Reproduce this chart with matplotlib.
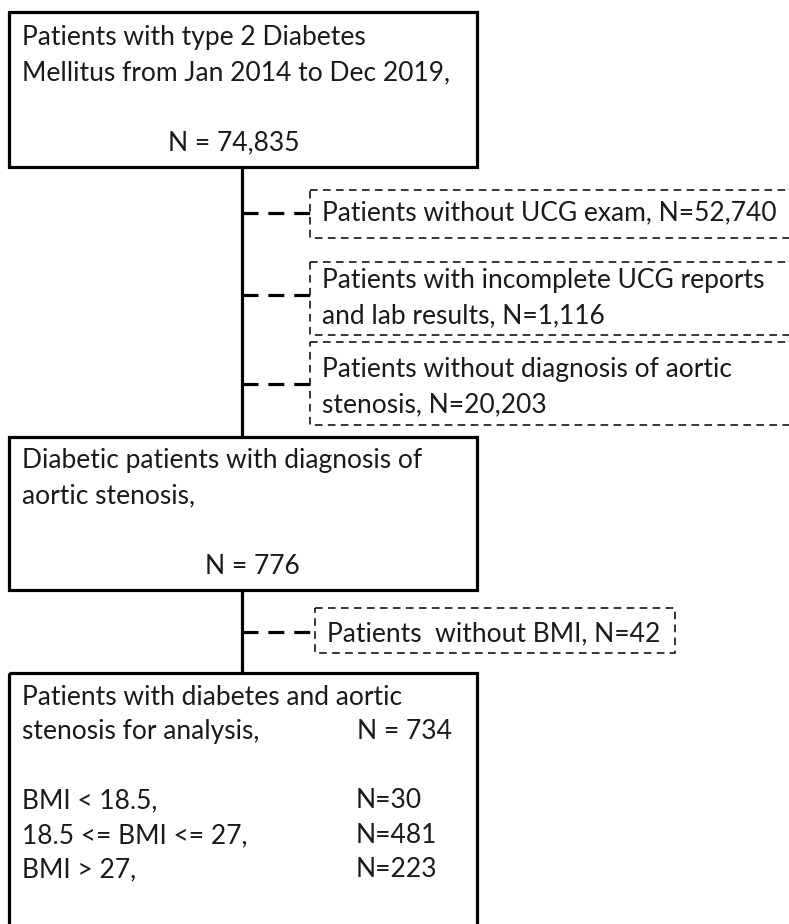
import matplotlib
matplotlib.use("Agg")
import matplotlib.pyplot as plt
from matplotlib.patches import Rectangle

# ---- content ----
main_texts = [
    ["Patients with type 2 Diabetes", "Mellitus from Jan 2014 to Dec 2019,"],
    ["Diabetic patients with diagnosis of", "aortic stenosis,"],
]
main_counts = ["N = 74,835", "N = 776"]
excl_texts = [
    ["Patients without UCG exam, N=52,740"],
    ["Patients with incomplete UCG reports", "and lab results, N=1,116"],
    ["Patients without diagnosis of aortic", "stenosis, N=20,203"],
    ["Patients  without BMI, N=42"],
]
final_header = ["Patients with diabetes and aortic", "stenosis for analysis,"]
final_total = "N = 734"
bmi_labels = ["BMI < 18.5,", "18.5 <= BMI <= 27,", "BMI > 27,"]
bmi_counts = ["N=30", "N=481", "N=223"]

W, H = 789, 924
fig = plt.figure(figsize=(W / 100, H / 100), dpi=100)
ax = fig.add_axes([0, 0, 1, 1])
ax.set_xlim(0, W)
ax.set_ylim(H, 0)
ax.axis("off")

FONT = "Lato"
FS = 19
TC = "#1a1a1a"
LW_BOX = 2.3
LW_THIN = 1.1


def solid_box(x0, y0, x1, y1):
    ax.add_patch(Rectangle((x0, y0), x1 - x0, y1 - y0, fill=False,
                           edgecolor="black", linewidth=LW_BOX, zorder=3))


def dashed_box(x0, y0, x1, y1):
    ax.add_patch(Rectangle((x0, y0), x1 - x0, y1 - y0, fill=False,
                           edgecolor="black", linewidth=LW_THIN,
                           linestyle=(0, (5.0, 3.5)), zorder=3))


def txt(x, y, s):
    ax.text(x, y, s, fontsize=FS, family=FONT, color=TC, ha="left",
            va="baseline", zorder=4)


# main boxes
solid_box(9, 12, 477, 167)
solid_box(9, 437, 477, 590)
solid_box(9, 673, 477, 960)

# vertical spine
spine_x = 242
ax.plot([spine_x, spine_x], [167, 437], color="black", lw=LW_BOX, zorder=2,
        solid_capstyle="butt")
ax.plot([spine_x, spine_x], [590, 673], color="black", lw=LW_BOX, zorder=2,
        solid_capstyle="butt")

# main texts
txt(22, 45, main_texts[0][0])
txt(22, 80, main_texts[0][1])
txt(168, 150, main_counts[0])
txt(22, 468, main_texts[1][0])
txt(22, 503, main_texts[1][1])
txt(205, 574, main_counts[1])

# exclusion boxes
excl_boxes = [(310, 190, 800, 238), (310, 262, 800, 335),
              (310, 342, 800, 425), (315, 608, 675, 653)]
excl_conn_y = [213, 295, 384, 632]
excl_baselines = [[220], [288, 323], [377, 412], [641]]
excl_text_x = [322, 322, 322, 327]
for box, cy, bl, tx, lines in zip(excl_boxes, excl_conn_y, excl_baselines,
                                  excl_text_x, excl_texts):
    dashed_box(*box)
    ax.plot([spine_x, box[0]], [cy, cy], color="black", lw=LW_BOX,
            linestyle=(0, (5.0, 3.1)), zorder=2, dash_capstyle="butt")
    for y, s in zip(bl, lines):
        txt(tx, y, s)

# final box text
txt(22, 705, final_header[0])
txt(22, 739, final_header[1])
txt(357, 739, final_total)
for y, lab, n in zip([808, 843, 877], bmi_labels, bmi_counts):
    txt(22, y, lab)
    txt(356, y, n)

fig.savefig("out.png", dpi=100, facecolor="white")
